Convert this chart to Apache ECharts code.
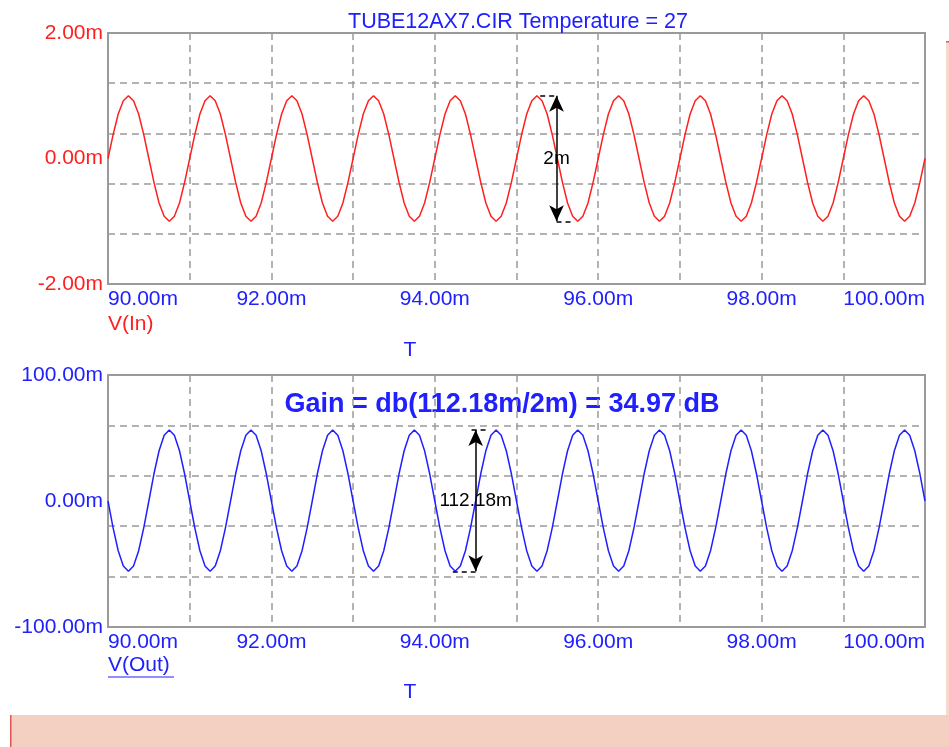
<!DOCTYPE html>
<html>
<head>
<meta charset="utf-8">
<script src="https://cdn.jsdelivr.net/npm/echarts@6/dist/echarts.min.js"></script>
<style>
  html, body { margin: 0; padding: 0; background: #fff; }
  #chart { width: 949px; height: 747px; }
</style>
</head>
<body>
<div id="chart"></div>
<script>
// sample times (ms)
const times = [
  90, 90.0625, 90.125, 90.1875, 90.25, 90.3125, 90.375, 90.4375, 90.5, 90.5625, 90.625, 90.6875, 90.75, 90.8125, 90.875, 90.9375,
  91, 91.0625, 91.125, 91.1875, 91.25, 91.3125, 91.375, 91.4375, 91.5, 91.5625, 91.625, 91.6875, 91.75, 91.8125, 91.875, 91.9375,
  92, 92.0625, 92.125, 92.1875, 92.25, 92.3125, 92.375, 92.4375, 92.5, 92.5625, 92.625, 92.6875, 92.75, 92.8125, 92.875, 92.9375,
  93, 93.0625, 93.125, 93.1875, 93.25, 93.3125, 93.375, 93.4375, 93.5, 93.5625, 93.625, 93.6875, 93.75, 93.8125, 93.875, 93.9375,
  94, 94.0625, 94.125, 94.1875, 94.25, 94.3125, 94.375, 94.4375, 94.5, 94.5625, 94.625, 94.6875, 94.75, 94.8125, 94.875, 94.9375,
  95, 95.0625, 95.125, 95.1875, 95.25, 95.3125, 95.375, 95.4375, 95.5, 95.5625, 95.625, 95.6875, 95.75, 95.8125, 95.875, 95.9375,
  96, 96.0625, 96.125, 96.1875, 96.25, 96.3125, 96.375, 96.4375, 96.5, 96.5625, 96.625, 96.6875, 96.75, 96.8125, 96.875, 96.9375,
  97, 97.0625, 97.125, 97.1875, 97.25, 97.3125, 97.375, 97.4375, 97.5, 97.5625, 97.625, 97.6875, 97.75, 97.8125, 97.875, 97.9375,
  98, 98.0625, 98.125, 98.1875, 98.25, 98.3125, 98.375, 98.4375, 98.5, 98.5625, 98.625, 98.6875, 98.75, 98.8125, 98.875, 98.9375,
  99, 99.0625, 99.125, 99.1875, 99.25, 99.3125, 99.375, 99.4375, 99.5, 99.5625, 99.625, 99.6875, 99.75, 99.8125, 99.875, 99.9375,
  100
]
// V(In), mV
const vIn = [
  0, 0.38, 0.71, 0.92, 1.00, 0.92, 0.71, 0.38, 0, -0.38, -0.71, -0.92, -1.00, -0.92, -0.71, -0.38,
  0, 0.38, 0.71, 0.92, 1.00, 0.92, 0.71, 0.38, 0, -0.38, -0.71, -0.92, -1.00, -0.92, -0.71, -0.38,
  0, 0.38, 0.71, 0.92, 1.00, 0.92, 0.71, 0.38, 0, -0.38, -0.71, -0.92, -1.00, -0.92, -0.71, -0.38,
  0, 0.38, 0.71, 0.92, 1.00, 0.92, 0.71, 0.38, 0, -0.38, -0.71, -0.92, -1.00, -0.92, -0.71, -0.38,
  0, 0.38, 0.71, 0.92, 1.00, 0.92, 0.71, 0.38, 0, -0.38, -0.71, -0.92, -1.00, -0.92, -0.71, -0.38,
  0, 0.38, 0.71, 0.92, 1.00, 0.92, 0.71, 0.38, 0, -0.38, -0.71, -0.92, -1.00, -0.92, -0.71, -0.38,
  0, 0.38, 0.71, 0.92, 1.00, 0.92, 0.71, 0.38, 0, -0.38, -0.71, -0.92, -1.00, -0.92, -0.71, -0.38,
  0, 0.38, 0.71, 0.92, 1.00, 0.92, 0.71, 0.38, 0, -0.38, -0.71, -0.92, -1.00, -0.92, -0.71, -0.38,
  0, 0.38, 0.71, 0.92, 1.00, 0.92, 0.71, 0.38, 0, -0.38, -0.71, -0.92, -1.00, -0.92, -0.71, -0.38,
  0, 0.38, 0.71, 0.92, 1.00, 0.92, 0.71, 0.38, 0, -0.38, -0.71, -0.92, -1.00, -0.92, -0.71, -0.38,
  0
]
// V(Out), mV
const vOut = [
  0, -21.3, -39.5, -51.6, -55.8, -51.6, -39.5, -21.3, 0, 21.6, 39.9, 52.1, 56.4, 52.1, 39.9, 21.6,
  0, -21.3, -39.5, -51.6, -55.8, -51.6, -39.5, -21.3, 0, 21.6, 39.9, 52.1, 56.4, 52.1, 39.9, 21.6,
  0, -21.3, -39.5, -51.6, -55.8, -51.6, -39.5, -21.3, 0, 21.6, 39.9, 52.1, 56.4, 52.1, 39.9, 21.6,
  0, -21.3, -39.5, -51.6, -55.8, -51.6, -39.5, -21.3, 0, 21.6, 39.9, 52.1, 56.4, 52.1, 39.9, 21.6,
  0, -21.3, -39.5, -51.6, -55.8, -51.6, -39.5, -21.3, 0, 21.6, 39.9, 52.1, 56.4, 52.1, 39.9, 21.6,
  0, -21.3, -39.5, -51.6, -55.8, -51.6, -39.5, -21.3, 0, 21.6, 39.9, 52.1, 56.4, 52.1, 39.9, 21.6,
  0, -21.3, -39.5, -51.6, -55.8, -51.6, -39.5, -21.3, 0, 21.6, 39.9, 52.1, 56.4, 52.1, 39.9, 21.6,
  0, -21.3, -39.5, -51.6, -55.8, -51.6, -39.5, -21.3, 0, 21.6, 39.9, 52.1, 56.4, 52.1, 39.9, 21.6,
  0, -21.3, -39.5, -51.6, -55.8, -51.6, -39.5, -21.3, 0, 21.6, 39.9, 52.1, 56.4, 52.1, 39.9, 21.6,
  0, -21.3, -39.5, -51.6, -55.8, -51.6, -39.5, -21.3, 0, 21.6, 39.9, 52.1, 56.4, 52.1, 39.9, 21.6,
  0
]

// measurement cursors (t, value)
const inCursorT = 95.49
const inPeak = 1.0
const inTrough = -1.0
const outCursorT = 94.5
const outPeak = 56.4
const outTrough = -55.8

const RED = '#ff1f1f'
const BLUE = '#2020ff'
const GRAY = '#9a9a9a'
const FONT = 'Liberation Sans, Arial, sans-serif'

const chart = echarts.init(document.getElementById('chart'))

const fmt = v => v.toFixed(2) + 'm'

const xAxisCfg = gridIndex => ({
  type: 'value',
  gridIndex: gridIndex,
  min: 90,
  max: 100,
  interval: 1,
  axisLine: { show: true, onZero: false, lineStyle: { color: GRAY, width: 2 } },
  axisTick: { show: false },
  axisLabel: {
    color: BLUE,
    fontSize: 21,
    fontFamily: FONT,
    margin: 5,
    showMinLabel: true,
    showMaxLabel: true,
    alignMinLabel: 'left',
    alignMaxLabel: 'right',
    formatter: v => (Math.round(v) % 2 === 0 ? fmt(v) : '')
  },
  splitLine: { show: true, lineStyle: { color: GRAY, type: [7, 5], width: 1.5 } }
})

const yLabelAxis = (gridIndex, lim, color) => ({
  type: 'value',
  gridIndex: gridIndex,
  min: -lim,
  max: lim,
  interval: lim,
  position: 'left',
  axisLine: { show: true, onZero: false, lineStyle: { color: GRAY, width: 2 } },
  axisTick: { show: false },
  axisLabel: { color: color, fontSize: 21, fontFamily: FONT, margin: 5, formatter: fmt },
  splitLine: { show: false }
})

// hidden axis only for the 5 grid divisions
const yGridAxis = gridIndex => ({
  type: 'value',
  gridIndex: gridIndex,
  min: 0,
  max: 5,
  interval: 1,
  position: 'right',
  axisLine: { show: false },
  axisTick: { show: false },
  axisLabel: { show: false },
  splitLine: { show: true, lineStyle: { color: GRAY, type: [7, 5], width: 1.5 } }
})

const arrowLine = (t, top, bottom) => [
  { coord: [t, top], symbol: 'arrow' },
  { coord: [t, bottom], symbol: 'arrow' }
]
const dash = (t1, t2, v) => [
  { coord: [t1, v], symbol: 'none', lineStyle: { type: [5, 4], width: 1.5, color: '#000' } },
  { coord: [t2, v], symbol: 'none' }
]

const option = {
  animation: false,
  backgroundColor: '#fff',
  title: {
    text: 'TUBE12AX7.CIR Temperature = 27',
    left: 343,
    top: 6,
    textStyle: { color: BLUE, fontSize: 21.5, fontWeight: 'normal', fontFamily: FONT }
  },
  grid: [
    { left: 108, top: 33, width: 817, height: 251, show: true, borderColor: GRAY, borderWidth: 2 },
    { left: 108, top: 375, width: 817, height: 252, show: true, borderColor: GRAY, borderWidth: 2 }
  ],
  xAxis: [xAxisCfg(0), xAxisCfg(1)],
  yAxis: [yLabelAxis(0, 2, RED), yGridAxis(0), yLabelAxis(1, 100, BLUE), yGridAxis(1)],
  series: [
    {
      name: 'V(In)',
      type: 'line',
      xAxisIndex: 0,
      yAxisIndex: 0,
      data: times.map((t, i) => [t, vIn[i]]),
      showSymbol: false,
      lineStyle: { color: RED, width: 1.5 },
      z: 3,
      markLine: {
        silent: true,
        symbolSize: [11, 16],
        label: { show: false },
        lineStyle: { color: '#000', width: 1.5, type: 'solid' },
        data: [
          arrowLine(inCursorT, inPeak, inTrough),
          dash(95.29, inCursorT, inPeak),
          dash(inCursorT, 95.68, inTrough)
        ]
      },
      markPoint: {
        silent: true,
        symbol: 'circle',
        symbolSize: 1,
        itemStyle: { color: 'transparent' },
        label: { show: true, position: 'inside', formatter: '2m', color: '#000', fontSize: 19, fontFamily: FONT },
        data: [{ coord: [inCursorT, 0] }]
      }
    },
    {
      name: 'V(Out)',
      type: 'line',
      xAxisIndex: 1,
      yAxisIndex: 2,
      data: times.map((t, i) => [t, vOut[i]]),
      showSymbol: false,
      lineStyle: { color: BLUE, width: 1.5 },
      z: 3,
      markLine: {
        silent: true,
        symbolSize: [11, 16],
        label: { show: false },
        lineStyle: { color: '#000', width: 1.5, type: 'solid' },
        data: [
          arrowLine(outCursorT, outPeak, outTrough),
          dash(94.45, 94.64, outPeak),
          dash(94.22, outCursorT, outTrough)
        ]
      },
      markPoint: {
        silent: true,
        symbol: 'circle',
        symbolSize: 1,
        itemStyle: { color: 'transparent' },
        label: { show: true, position: 'inside', formatter: '112.18m', color: '#000', fontSize: 19, fontFamily: FONT },
        data: [{ coord: [outCursorT, 0] }]
      }
    }
  ],
  graphic: [
    { type: 'text', x: 108, y: 324, style: { text: 'V(In)', fill: RED, font: '21px ' + FONT, textVerticalAlign: 'middle' } },
    { type: 'text', x: 410, y: 350, style: { text: 'T', fill: BLUE, font: '21px ' + FONT, textAlign: 'center', textVerticalAlign: 'middle' } },
    { type: 'text', x: 502, y: 405, style: { text: 'Gain = db(112.18m/2m) = 34.97 dB', fill: BLUE, font: 'bold 27px ' + FONT, textAlign: 'center', textVerticalAlign: 'middle' } },
    { type: 'text', x: 108, y: 665, style: { text: 'V(Out)', fill: BLUE, font: '21px ' + FONT, textVerticalAlign: 'middle' } },
    { type: 'line', shape: { x1: 108, y1: 677, x2: 174, y2: 677 }, style: { stroke: BLUE, lineWidth: 1.2 } },
    { type: 'text', x: 410, y: 692, style: { text: 'T', fill: BLUE, font: '21px ' + FONT, textAlign: 'center', textVerticalAlign: 'middle' } },
    // pink status strip at the bottom and right
    { type: 'rect', shape: { x: 10, y: 715, width: 939, height: 32 }, style: { fill: '#f4d0c2' } },
    { type: 'rect', shape: { x: 10, y: 715, width: 1.5, height: 32 }, style: { fill: '#e05555' } },
    { type: 'rect', shape: { x: 946, y: 41, width: 3, height: 674 }, style: { fill: '#f7d8cc' } },
    { type: 'rect', shape: { x: 946, y: 41, width: 3, height: 1.5 }, style: { fill: '#e05555' } }
  ]
}

chart.setOption(option)
</script>
</body>
</html>
